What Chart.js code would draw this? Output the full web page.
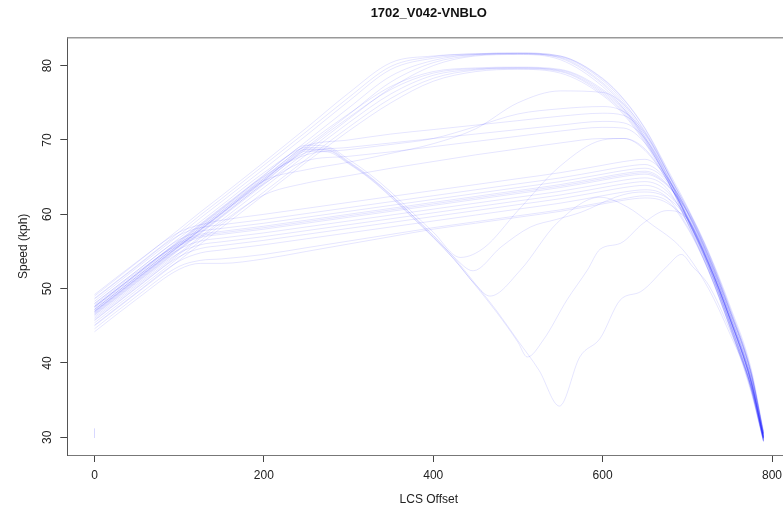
<!DOCTYPE html>
<html lang="en">
<head>
    <meta charset="UTF-8">
    <title>1702_V042-VNBLO</title>
    <script src="https://cdn.jsdelivr.net/npm/chart.js"></script>
    <style>
        body { margin: 0; overflow: hidden; background: #fff; }
        #wrap { width: 800px; height: 511px; }
    </style>
</head>
<body>
<div id="wrap"><canvas id="speedChart" width="800" height="511"></canvas></div>

<script>
    // shared offsets for most runs
    const lcsOffset = [0, 50, 100, 125, 150, 200, 250, 300, 350, 400, 450, 500, 550, 600, 625, 650, 675, 700, 725, 750, 775, 790];

    const xTicks = [0, 200, 400, 600, 800];
    const yTicks = [30, 40, 50, 60, 70, 80];

    // fast runs, top plateau (~81.5)
    const speedA1a = [49.0, 53.5, 58.0, 60.3, 62.5, 67.0, 71.6, 76.3, 80.4, 81.3, 81.6, 81.7, 81.3, 78.2, 75.4, 71.5, 66.2, 60.4, 54.2, 46.7, 38.2, 30.2];
    const speedA1b = [48.3, 52.8, 57.2, 59.5, 61.7, 66.1, 70.6, 75.2, 79.5, 81.0, 81.5, 81.6, 81.2, 78.0, 75.1, 71.0, 65.8, 60.8, 54.8, 47.4, 39.0, 30.6];
    const speedA1c = [47.6, 52.0, 56.5, 58.7, 60.9, 65.3, 69.8, 74.3, 78.6, 80.7, 81.5, 81.6, 81.1, 77.7, 74.8, 70.7, 65.5, 59.4, 53.0, 45.4, 36.8, 29.6];
    const speedA1d = [47.0, 51.4, 55.8, 58.0, 60.2, 64.6, 69.0, 73.4, 77.8, 80.4, 81.4, 81.6, 81.0, 77.5, 74.5, 70.4, 65.2, 59.5, 53.3, 45.9, 37.4, 29.8];
    const speedA1e = [46.4, 50.8, 55.2, 57.4, 59.6, 64.0, 68.4, 72.8, 77.0, 80.0, 81.3, 81.5, 80.8, 77.2, 74.2, 70.1, 65.0, 58.8, 52.4, 44.8, 36.2, 29.4];
    const speedA1f = [48.7, 53.1, 57.6, 59.9, 62.1, 66.6, 71.1, 75.7, 79.9, 81.2, 81.6, 81.7, 81.3, 78.3, 75.5, 71.6, 66.4, 61.0, 55.0, 47.8, 39.4, 30.8];

    // fast runs, second plateau (~79.6)
    const speedA2a = [46.8, 51.2, 55.6, 57.8, 60.0, 64.4, 68.8, 73.0, 76.8, 79.0, 79.6, 79.7, 79.4, 76.6, 74.0, 70.2, 65.3, 59.7, 53.5, 46.0, 37.5, 29.9];
    const speedA2b = [46.0, 50.4, 54.8, 57.0, 59.2, 63.6, 68.0, 72.3, 76.2, 78.7, 79.5, 79.7, 79.3, 76.4, 73.8, 70.0, 65.1, 60.3, 54.3, 47.0, 38.6, 30.4];
    const speedA2c = [45.4, 49.8, 54.2, 56.4, 58.6, 63.0, 67.4, 71.7, 75.6, 78.3, 79.4, 79.6, 79.2, 76.2, 73.6, 69.8, 65.0, 58.9, 52.6, 45.0, 36.5, 29.5];
    const speedA2d = [47.4, 51.8, 56.2, 58.4, 60.6, 65.0, 69.4, 73.5, 77.2, 79.2, 79.7, 79.8, 79.5, 76.8, 74.2, 70.4, 65.5, 59.9, 53.7, 46.2, 37.7, 30.0];
    const speedA2e = [45.0, 49.4, 53.8, 56.0, 58.2, 62.6, 67.0, 71.2, 75.0, 77.9, 79.2, 79.5, 79.0, 76.0, 73.4, 69.6, 64.8, 59.6, 53.6, 46.2, 37.8, 30.1];

    // middle runs (~68-76)
    const speedC1 = [48.0, 52.4, 56.8, 59.0, 61.2, 65.6, 69.2, 70.0, 70.8, 71.4, 72.0, 72.6, 73.2, 73.6, 73.3, 70.8, 66.0, 60.2, 54.0, 46.5, 38.0, 30.1];
    const speedC2 = [47.2, 51.6, 56.0, 58.2, 60.4, 64.8, 68.3, 69.0, 69.6, 70.2, 70.8, 71.4, 72.0, 72.5, 72.3, 70.2, 65.6, 59.3, 53.0, 45.4, 36.9, 29.6];
    const speedC3 = [46.5, 50.9, 55.3, 57.5, 59.7, 64.1, 67.2, 67.8, 68.4, 69.1, 69.8, 70.5, 71.2, 71.7, 71.6, 69.6, 65.2, 60.5, 54.5, 47.2, 38.8, 30.5];
    const speedC4 = [45.8, 50.2, 54.6, 56.8, 58.9, 62.6, 64.2, 65.2, 66.2, 67.1, 68.0, 68.8, 69.6, 70.2, 70.2, 68.8, 64.8, 59.4, 53.2, 45.8, 37.3, 29.8];
    const speedC5 = [46.9, 51.3, 55.7, 57.9, 60.1, 64.5, 66.0, 67.0, 68.2, 69.5, 71.5, 75.0, 76.6, 76.4, 74.8, 71.2, 66.0, 59.6, 53.2, 45.6, 37.0, 29.7];
    const speedC6 = [47.5, 51.9, 56.3, 58.5, 60.7, 65.1, 68.0, 68.7, 69.4, 70.2, 71.8, 73.5, 74.2, 74.5, 73.8, 71.0, 66.0, 60.8, 54.8, 47.5, 39.0, 30.6];

    // main band (~57-67)
    const speedB1 = [49.2, 53.6, 57.6, 58.6, 59.2, 60.0, 60.8, 61.6, 62.4, 63.2, 64.0, 64.8, 65.6, 66.6, 67.1, 67.4, 65.2, 60.2, 54.0, 46.5, 38.0, 30.1];
    const speedB2 = [48.6, 53.0, 57.2, 58.2, 58.6, 59.3, 60.1, 60.9, 61.7, 62.5, 63.3, 64.1, 64.9, 65.9, 66.4, 66.7, 64.8, 60.6, 54.6, 47.2, 38.8, 30.5];
    const speedB3 = [48.0, 52.4, 56.6, 57.7, 58.1, 58.8, 59.6, 60.4, 61.2, 62.0, 62.8, 63.6, 64.4, 65.4, 65.9, 66.2, 64.5, 59.3, 53.0, 45.5, 37.0, 29.6];
    const speedB4 = [47.6, 52.0, 56.2, 57.3, 57.7, 58.4, 59.2, 60.0, 60.8, 61.6, 62.4, 63.2, 64.0, 65.0, 65.5, 65.8, 64.2, 59.8, 53.7, 46.2, 37.7, 29.9];
    const speedB5 = [47.2, 51.6, 55.8, 56.9, 57.3, 58.0, 58.8, 59.6, 60.4, 61.2, 62.0, 62.8, 63.6, 64.6, 65.1, 65.4, 64.0, 60.3, 54.3, 47.0, 38.6, 30.4];
    const speedB6 = [46.7, 51.1, 55.3, 56.4, 56.8, 57.5, 58.3, 59.1, 59.9, 60.7, 61.5, 62.3, 63.1, 64.1, 64.6, 64.9, 63.6, 58.9, 52.8, 45.3, 36.8, 29.5];
    const speedB7 = [46.2, 50.6, 54.8, 55.9, 56.3, 57.0, 57.8, 58.6, 59.4, 60.2, 61.0, 61.8, 62.6, 63.6, 64.1, 64.4, 63.2, 59.3, 53.4, 46.0, 37.5, 29.8];
    const speedB8 = [45.7, 50.1, 54.3, 55.4, 55.8, 56.5, 57.3, 58.1, 58.9, 59.7, 60.5, 61.3, 62.1, 63.1, 63.6, 63.9, 62.8, 59.6, 53.9, 46.6, 38.2, 30.3];
    const speedB9 = [45.1, 49.5, 53.7, 54.8, 55.2, 55.9, 56.7, 57.5, 58.3, 59.1, 59.9, 60.7, 61.5, 62.5, 63.0, 63.3, 62.4, 58.4, 52.5, 45.0, 36.5, 29.4];
    const speedB10 = [44.2, 48.6, 52.6, 53.4, 53.4, 54.0, 55.0, 56.0, 57.0, 58.0, 58.8, 59.6, 60.4, 61.4, 61.9, 62.2, 61.6, 59.0, 53.4, 46.2, 37.8, 30.1];
    const speedB11 = [44.6, 49.0, 53.0, 53.8, 54.0, 54.6, 55.5, 56.4, 57.3, 58.2, 59.0, 59.8, 60.6, 61.6, 62.1, 62.5, 61.9, 58.2, 52.4, 45.0, 36.6, 29.5];
    const speedB12 = [47.8, 52.2, 56.0, 57.1, 57.5, 58.2, 59.0, 59.8, 60.6, 61.4, 62.2, 63.0, 63.8, 64.8, 65.3, 65.6, 64.1, 60.4, 54.4, 47.0, 38.6, 30.4];

    // runs that slow down after ~250 and recover
    const offsetD1 = [0, 50, 100, 150, 200, 225, 250, 275, 300, 325, 350, 375, 400, 432, 460, 500, 550, 600, 625, 650, 675, 700, 725, 750, 775, 790];
    const speedD1 = [47.6, 52.0, 56.4, 60.8, 65.2, 67.6, 69.3, 69.1, 67.4, 65.4, 63.0, 60.3, 57.6, 54.2, 55.5, 60.5, 66.5, 70.0, 70.2, 68.6, 64.8, 59.6, 53.5, 46.1, 37.6, 29.9];
    const offsetD2 = [0, 50, 100, 150, 200, 225, 250, 275, 300, 325, 350, 375, 400, 425, 447, 480, 515, 545, 575, 615, 635, 650, 675, 700, 725, 750, 775, 790];
    const speedD2 = [47.0, 51.4, 55.8, 60.2, 64.6, 67.0, 68.8, 68.7, 67.0, 65.0, 62.6, 59.9, 57.2, 54.2, 52.4, 55.6, 58.3, 59.3, 60.3, 62.3, 62.9, 63.0, 62.3, 59.4, 53.4, 46.0, 37.5, 29.9];
    const offsetD3 = [0, 50, 100, 150, 200, 225, 250, 275, 300, 325, 350, 375, 400, 425, 450, 467, 503, 546, 597, 629, 656, 695, 725, 750, 775, 790];
    const speedD3 = [46.6, 51.0, 55.4, 59.8, 64.2, 66.6, 68.5, 68.4, 66.8, 64.8, 62.3, 59.6, 56.9, 53.9, 50.5, 49.0, 52.5, 58.8, 62.3, 61.0, 58.8, 55.2, 50.0, 44.0, 37.0, 30.0];
    const offsetD4 = [0, 50, 100, 150, 200, 225, 250, 275, 300, 325, 350, 375, 400, 425, 450, 475, 500, 511, 530, 558, 582, 597, 621, 648, 676, 700, 725, 750, 775, 790];
    const speedD4 = [46.9, 51.3, 55.7, 60.1, 64.5, 66.9, 68.7, 68.6, 66.9, 64.9, 62.4, 59.7, 56.9, 53.9, 50.4, 46.8, 42.8, 40.8, 43.1, 48.5, 52.5, 55.3, 56.1, 58.8, 60.5, 59.4, 53.4, 46.0, 37.5, 29.9];
    const offsetD5 = [0, 50, 100, 150, 200, 225, 250, 275, 300, 325, 350, 375, 400, 425, 450, 475, 500, 525, 549, 573, 597, 621, 645, 676, 693, 706, 725, 750, 775, 790];
    const speedD5 = [47.2, 51.6, 56.0, 60.4, 64.8, 67.2, 69.0, 68.9, 67.1, 65.1, 62.6, 59.9, 57.1, 54.1, 50.6, 47.0, 43.0, 39.0, 34.2, 40.8, 43.3, 48.5, 49.6, 53.0, 54.6, 53.0, 50.5, 44.5, 37.0, 30.0];

    // stray reading at the start
    const offsetE = [0, 0];
    const speedE = [31.2, 29.9];

    const runs = [
        [lcsOffset, speedA1a], [lcsOffset, speedA1b], [lcsOffset, speedA1c], [lcsOffset, speedA1d], [lcsOffset, speedA1e], [lcsOffset, speedA1f],
        [lcsOffset, speedA2a], [lcsOffset, speedA2b], [lcsOffset, speedA2c], [lcsOffset, speedA2d], [lcsOffset, speedA2e],
        [lcsOffset, speedC1], [lcsOffset, speedC2], [lcsOffset, speedC3], [lcsOffset, speedC4], [lcsOffset, speedC5], [lcsOffset, speedC6],
        [lcsOffset, speedB1], [lcsOffset, speedB2], [lcsOffset, speedB3], [lcsOffset, speedB4], [lcsOffset, speedB5], [lcsOffset, speedB6],
        [lcsOffset, speedB7], [lcsOffset, speedB8], [lcsOffset, speedB9], [lcsOffset, speedB10], [lcsOffset, speedB11], [lcsOffset, speedB12],
        [offsetD1, speedD1], [offsetD2, speedD2], [offsetD3, speedD3], [offsetD4, speedD4], [offsetD5, speedD5],
        [offsetE, speedE]
    ];

    const lineColour = 'rgba(0, 0, 255, 0.1)';

    const datasets = runs.map(function(r) {
        const straight = r[0][0] === r[0][r[0].length - 1];
        return {
            data: r[0].map((x, i) => ({ x: x, y: r[1][i] })),
            showLine: true,
            borderColor: straight ? 'rgba(0, 0, 255, 0.06)' : lineColour,
            borderWidth: 1,
            pointRadius: 0,
            tension: straight ? 0 : 0.4,
            cubicInterpolationMode: straight ? 'default' : 'monotone'
        };
    });

    // R style box: top edge (left and bottom come from the axes)
    const boxPlugin = {
        id: 'box',
        afterDraw(chart) {
            const a = chart.chartArea;
            const ctx = chart.ctx;
            ctx.save();
            ctx.strokeStyle = '#999';
            ctx.lineWidth = 1.5;
            ctx.beginPath();
            ctx.moveTo(a.left, a.top);
            ctx.lineTo(a.right, a.top);
            ctx.stroke();
            ctx.restore();
        }
    };

    const font = { family: '"Liberation Sans", Arial, sans-serif', size: 12 };

    new Chart(document.getElementById('speedChart'), {
        type: 'scatter',
        data: { datasets: datasets },
        plugins: [boxPlugin],
        options: {
            responsive: false,
            animation: false,
            events: [],
            layout: { padding: { left: 0, right: 9.7, top: 0, bottom: 0 } },
            plugins: {
                legend: { display: false },
                tooltip: { enabled: false },
                title: {
                    display: true,
                    text: '1702_V042-VNBLO',
                    fullSize: false,
                    color: '#111',
                    font: { family: '"Liberation Sans", Arial, sans-serif', size: 13, weight: 'bold' },
                    padding: { top: 5.5, bottom: 16.6 }
                }
            },
            scales: {
                x: {
                    type: 'linear',
                    min: -32.1,
                    max: 821.6,
                    afterFit(scale) { scale.height = 56; },
                    afterBuildTicks(scale) { scale.ticks = xTicks.map(v => ({ value: v })); },
                    grid: { drawOnChartArea: false, drawTicks: true, tickLength: 7, tickColor: '#444' },
                    border: { display: true, color: '#777', width: 1 },
                    ticks: { color: '#222', font: font, padding: 6, maxRotation: 0 },
                    title: { display: true, text: 'LCS Offset', color: '#222', font: font, padding: { top: 0, bottom: 3.8 } }
                },
                y: {
                    type: 'linear',
                    min: 27.62,
                    max: 83.76,
                    afterFit(scale) { scale.width = 67.3; },
                    afterBuildTicks(scale) { scale.ticks = yTicks.map(v => ({ value: v })); },
                    grid: { drawOnChartArea: false, drawTicks: true, tickLength: 7, tickColor: '#444' },
                    border: { display: true, color: '#555', width: 1 },
                    ticks: { color: '#222', font: font, padding: 5.6, minRotation: 90, maxRotation: 90, crossAlign: 'center' },
                    title: { display: true, text: 'Speed (kph)', color: '#222', font: font, padding: { top: 16.3, bottom: 0 } }
                }
            }
        }
    });
</script>
</body>
</html>
